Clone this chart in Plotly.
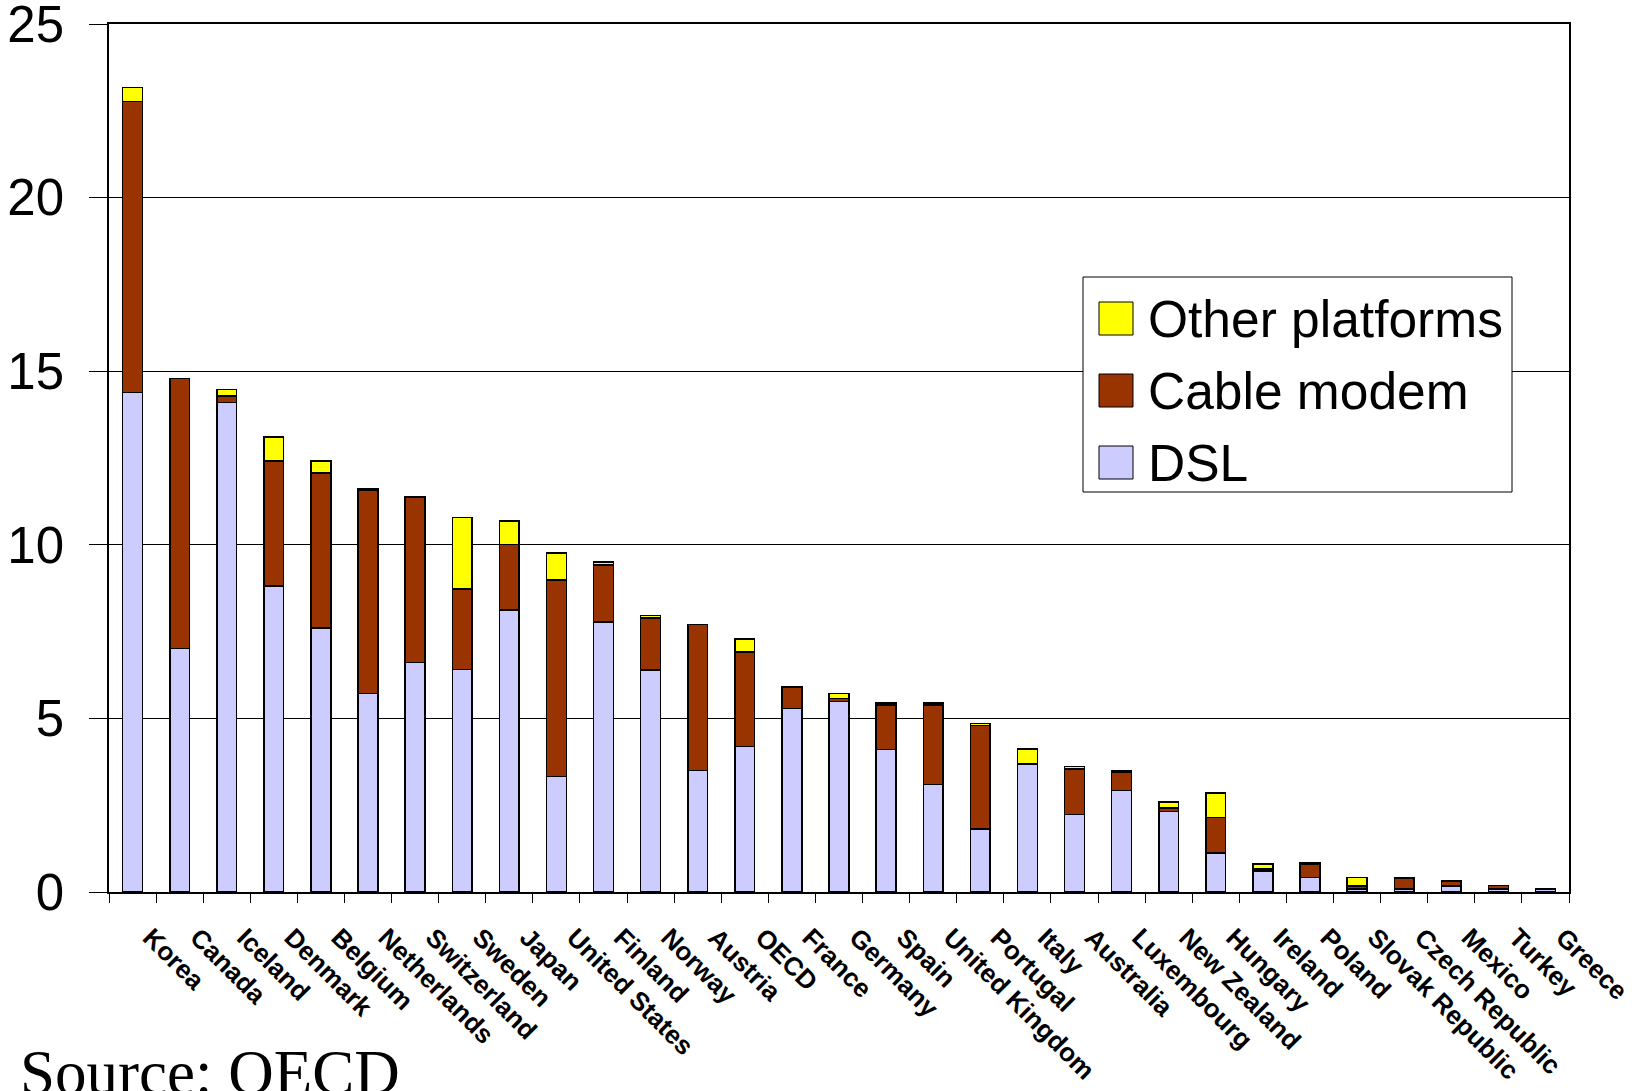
import plotly.graph_objects as go

# Broadband subscribers per 100 inhabitants, by technology
countries = [
    "Korea", "Canada", "Iceland", "Denmark", "Belgium", "Netherlands",
    "Switzerland", "Sweden", "Japan", "United States", "Finland", "Norway",
    "Austria", "OECD", "France", "Germany", "Spain", "United Kingdom",
    "Portugal", "Italy", "Australia", "Luxembourg", "New Zealand", "Hungary",
    "Ireland", "Poland", "Slovak Republic", "Czech Republic", "Mexico",
    "Turkey", "Greece",
]
dsl = [14.38, 7.01, 14.10, 8.81, 7.61, 5.72, 6.61, 6.41, 8.12, 3.32, 7.78,
       6.40, 3.50, 4.19, 5.29, 5.48, 4.10, 3.10, 1.81, 3.69, 2.23, 2.92,
       2.32, 1.12, 0.60, 0.42, 0.08, 0.09, 0.17, 0.08, 0.09]
cable = [8.39, 7.78, 0.18, 3.60, 4.46, 5.86, 4.77, 2.31, 1.89, 5.66, 1.64,
         1.49, 4.20, 2.72, 0.61, 0.10, 1.29, 2.29, 2.99, None, 1.31, 0.53,
         0.10, 1.02, 0.06, 0.38, 0.10, 0.32, 0.15, 0.11, None]
other = [0.40, None, 0.20, 0.69, 0.34, 0.04, None, 2.06, 0.68, 0.78, 0.08,
         0.08, None, 0.38, None, 0.14, 0.05, 0.05, 0.05, 0.43, 0.07, 0.05,
         0.17, 0.71, 0.15, 0.04, 0.24, None, None, None, None]

series = [
    ("DSL", dsl, "#CCCCFF"),
    ("Cable modem", cable, "#993300"),
    ("Other platforms", other, "#FFFF00"),
]

W, H = 1637, 1091
L, R, T, B = 109, 68, 24, 199
PW, PH = W - L - R, H - T - B


def px(x):
    return (x - L) / PW


def py(y):
    return (H - B - y) / PH


fig = go.Figure()
for name, vals, color in series:
    fig.add_trace(go.Bar(
        x=countries, y=vals, name=name,
        marker=dict(color=color, line=dict(color="black", width=1.5)),
        showlegend=False,
    ))

# legend drawn as a framed box with large swatches
shapes = [dict(type="rect", xref="paper", yref="paper",
               x0=px(1083), x1=px(1512), y0=py(492), y1=py(277),
               line=dict(color="black", width=1), fillcolor="white", layer="above")]
annotations = []
legend_rows = [("Other platforms", "#FFFF00", 318.5),
               ("Cable modem", "#993300", 390.5),
               ("DSL", "#CCCCFF", 462.5)]
for label, color, cy in legend_rows:
    shapes.append(dict(type="rect", xref="paper", yref="paper",
                       x0=px(1099), x1=px(1133), y0=py(cy + 16.5), y1=py(cy - 16.5),
                       line=dict(color="black", width=1), fillcolor=color, layer="above"))
    annotations.append(dict(text=label, xref="paper", yref="paper",
                            x=px(1146), y=py(cy), xanchor="left", yanchor="middle",
                            showarrow=False,
                            font=dict(family="Liberation Sans, Arial", size=51.5, color="black")))

annotations.append(dict(text="Source: OECD", xref="paper", yref="paper",
                        x=px(18), y=py(1036), xanchor="left", yanchor="top",
                        showarrow=False,
                        font=dict(family="Liberation Serif, Times New Roman", size=63, color="black")))

fig.update_layout(
    width=W, height=H,
    barmode="stack", bargap=0.58,
    margin=dict(l=L, r=R, t=T, b=B, autoexpand=False),
    paper_bgcolor="white", plot_bgcolor="white",
    shapes=shapes, annotations=annotations,
    xaxis=dict(
        type="category", tickson="boundaries", ticks="outside", ticklen=9,
        tickcolor="black", tickwidth=1, showline=True, linecolor="black",
        linewidth=1.5, mirror=True, showgrid=False, tickangle=45,
        ticklabelstandoff=18, ticklabelshift=18,
        tickfont=dict(family="Liberation Sans, Arial", size=26, color="black",
                      weight="bold"),
    ),
    yaxis=dict(
        range=[0, 25], dtick=5, ticks="outside", ticklen=18, tickcolor="black",
        tickwidth=1, showline=True, linecolor="black", linewidth=1.5, mirror=True,
        showgrid=True, gridcolor="black", gridwidth=1, zeroline=False,
        ticklabelstandoff=15, ticklabeloverflow="allow",
        tickfont=dict(family="Liberation Sans, Arial", size=51, color="black"),
    ),
)

fig.write_html("out.html")
